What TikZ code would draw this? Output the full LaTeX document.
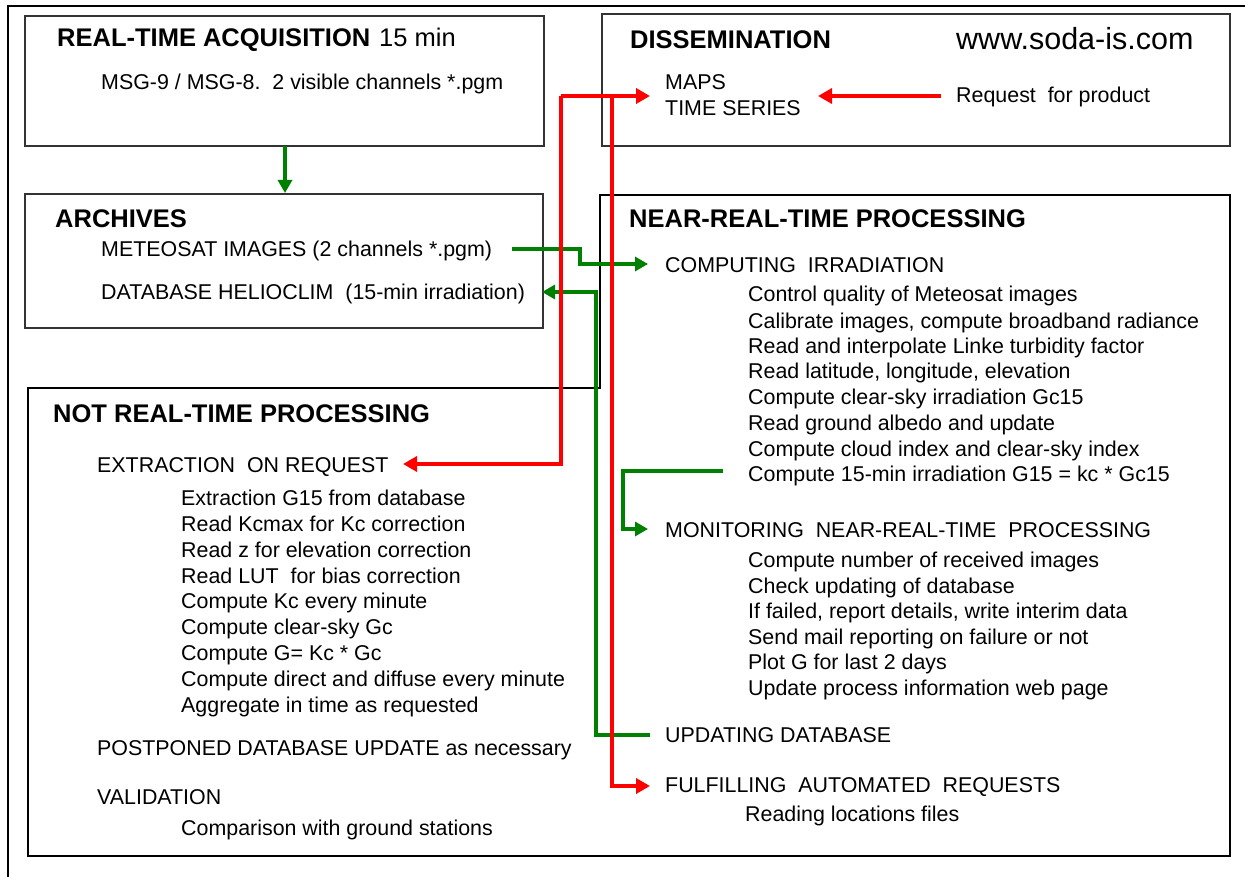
\documentclass[tikz,border=0pt]{standalone}
\usepackage{fontspec}
\setmainfont{Liberation Sans}
\usetikzlibrary{arrows.meta}
\definecolor{arrgreen}{RGB}{0,128,0}
\definecolor{arrred}{RGB}{255,0,0}
\newcommand\bodyfont{\fontsize{21.4}{25}\selectfont}
\newcommand\headfont{\fontsize{25.5}{30}\selectfont\bfseries}
\newcommand\minfont{\fontsize{25.5}{30}\selectfont}
\newcommand\webfont{\fontsize{30.5}{35}\selectfont}
\begin{document}
\begin{tikzpicture}[x=1pt,y=-1pt,
  txt/.style={anchor=base west,inner sep=0pt,font=\bodyfont},
  head/.style={anchor=base west,inner sep=0pt,font=\headfont},
  thinbox/.style={draw=black!80,line width=1.2pt},
  thickbox/.style={draw=black,line width=2.3pt},
  frame/.style={draw=black,line width=2pt},
  gline/.style={draw=arrgreen,line width=4pt,-{Triangle[length=13pt,width=14pt]}},
  rline/.style={draw=arrred,line width=4pt,-{Triangle[length=14pt,width=15pt]}},
]
\useasboundingbox (0,0) rectangle (1245,877);
\fill[white] (0,0) rectangle (1245,877);

% outer frame (only top and left visible)
\draw[frame] (8,880) -- (8,6) -- (1250,6);

% boxes
\draw[thinbox] (25,16) rectangle (544,146);
\draw[thinbox] (25,194) rectangle (543,328);
\draw[thinbox] (602,14) rectangle (1230,146);
\draw[thickbox] (28,388) -- (600,388) -- (600,195) -- (1230,195) -- (1230,856) -- (28,856) -- cycle;

% REAL-TIME ACQUISITION
\node[head] (rta) at (57,47) {REAL-TIME ACQUISITION};
\node[anchor=base west,inner sep=0pt,font=\minfont] (rtamin) at (379,47) {15 min};
\node[txt] (msg) at (101,90) {MSG-9 / MSG-8.\ \ 2 visible channels *.pgm};

% DISSEMINATION
\node[head] (diss) at (630,49) {DISSEMINATION};
\node[anchor=base west,inner sep=0pt,font=\webfont] (web) at (956,50) {www.soda-is.com};
\node[txt] (maps) at (665,90) {MAPS};
\node[txt] (series) at (665,116) {TIME SERIES};
\node[txt] (request) at (956,103) {Request\ \ for product};

% ARCHIVES
\node[head] (arch) at (55,228) {ARCHIVES};
\node[txt] (meteo) at (101,257) {METEOSAT IMAGES (2 channels *.pgm)};
\node[txt] (helio) at (101,300) {DATABASE HELIOCLIM\ \ (15-min irradiation)};

% NEAR-REAL-TIME PROCESSING
\node[head] (nrt) at (629,228) {NEAR-REAL-TIME PROCESSING};
\node[txt] (comp) at (665,273) {COMPUTING\ \ IRRADIATION};
\node[txt] (c1) at (748,302) {Control quality of Meteosat images};
\node[txt] (c2) at (748,328) {Calibrate images, compute broadband radiance};
\node[txt] (c3) at (748,353) {Read and interpolate Linke turbidity factor};
\node[txt] (c4) at (748,378) {Read latitude, longitude, elevation};
\node[txt] (c5) at (748,404) {Compute clear-sky irradiation Gc15};
\node[txt] (c6) at (748,430) {Read ground albedo and update};
\node[txt] (c7) at (748,456) {Compute cloud index and clear-sky index};
\node[txt] (c8) at (748,481) {Compute 15-min irradiation G15 = kc * Gc15};
\node[txt] (mon) at (665,537) {MONITORING\ \ NEAR-REAL-TIME\ \ PROCESSING};
\node[txt] (m1) at (748,567) {Compute number of received images};
\node[txt] (m2) at (748,593) {Check updating of database};
\node[txt] (m3) at (748,618) {If failed, report details, write interim data};
\node[txt] (m4) at (748,644) {Send mail reporting on failure or not};
\node[txt] (m5) at (748,669) {Plot G for last 2 days};
\node[txt] (m6) at (748,695) {Update process information web page};
\node[txt] (upd) at (665,742) {UPDATING DATABASE};
\node[txt] (ful) at (665,792) {FULFILLING\ \ AUTOMATED\ \ REQUESTS};
\node[txt] (f1) at (745,821) {Reading locations files};

% NOT REAL-TIME PROCESSING
\node[head] (nrtp) at (53,422) {NOT REAL-TIME PROCESSING};
\node[txt] (ext) at (97,472) {EXTRACTION\ \ ON REQUEST};
\node[txt] (e1) at (181,505) {Extraction G15 from database};
\node[txt] (e2) at (181,531) {Read Kcmax for Kc correction};
\node[txt] (e3) at (181,557) {Read z for elevation correction};
\node[txt] (e4) at (181,583) {Read LUT\ \ for bias correction};
\node[txt] (e5) at (181,608) {Compute Kc every minute};
\node[txt] (e6) at (181,634) {Compute clear-sky Gc};
\node[txt] (e7) at (181,660) {Compute G= Kc * Gc};
\node[txt] (e8) at (181,686) {Compute direct and diffuse every minute};
\node[txt] (e9) at (181,712) {Aggregate in time as requested};
\node[txt] (post) at (97,755) {POSTPONED DATABASE UPDATE as necessary};
\node[txt] (val) at (97,804) {VALIDATION};
\node[txt] (v1) at (181,835) {Comparison with ground stations};

% connector end points
\coordinate (rtaOut) at (285,146);
\coordinate (archIn) at (285,193);
\coordinate (meteoOut) at (512,249);
\coordinate (compIn) at (648,264);
\coordinate (updOut) at (650,735);
\coordinate (helioIn) at (542,292);
\coordinate (c8Out) at (723,471);
\coordinate (monIn) at (648,529);
\coordinate (junA) at (561,96);
\coordinate (junB) at (612,96);
\coordinate (mapsIn) at (650,96);
\coordinate (extIn) at (403,464);
\coordinate (fulIn) at (650,786);
\coordinate (reqOut) at (941,96);
\coordinate (reqIn) at (818,96);

% green connectors
\draw[gline] (rtaOut) -- (archIn);
\draw[gline] (meteoOut) -- (580,249) -- (580,264) -- (compIn);
\draw[gline] (updOut) -- (596,735) -- (596,292) -- (helioIn);
\draw[gline] (c8Out) -- (623,471) -- (623,529) -- (monIn);

% red connectors
\draw[rline] (junA) -- (mapsIn);
\draw[rline] (junA) -- (561,464) -- (extIn);
\draw[rline] (junB) -- (612,786) -- (fulIn);
\draw[rline] (reqOut) -- (reqIn);
\end{tikzpicture}
\end{document}
